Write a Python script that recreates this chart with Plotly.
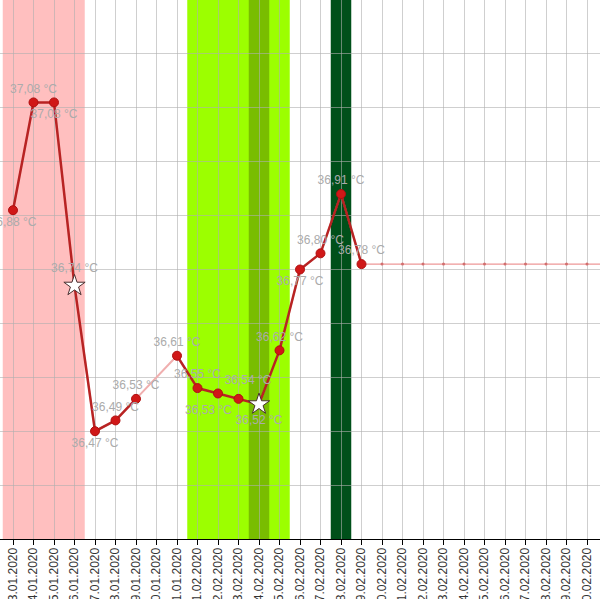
import pandas as pd
import plotly.graph_objects as go

# temperature readings (°C), None = no measurement
dates = ["2020-01-23", "2020-01-24", "2020-01-25", "2020-01-26", "2020-01-27",
         "2020-01-28", "2020-01-29", "2020-01-30", "2020-01-31", "2020-02-01",
         "2020-02-02", "2020-02-03", "2020-02-04", "2020-02-05", "2020-02-06",
         "2020-02-07", "2020-02-08", "2020-02-09"]
temps = [36.88, 37.08, 37.08, 36.74, 36.47, 36.49, 36.53, None, 36.61, 36.55,
         36.54, 36.53, 36.52, 36.62, 36.77, 36.80, 36.91, 36.78]
star_days = ["2020-01-26", "2020-02-04"]
label_pos = ["bottom center", "top center", "bottom center", "top center", "bottom center",
             "top center", "top center", "top center", "top center", "top center",
             "top right", "bottom left", "bottom center", "top center", "bottom center",
             "top center", "top center", "top center"]

# projected line after last reading
future_dates = ["2020-02-09", "2020-02-10", "2020-02-11", "2020-02-12", "2020-02-13",
                "2020-02-14", "2020-02-15", "2020-02-16", "2020-02-17", "2020-02-18",
                "2020-02-19", "2020-02-20", "2020-02-21", "2020-02-22"]
future_temps = [36.78, 36.78, 36.78, 36.78, 36.78, 36.78, 36.78, 36.78, 36.78, 36.78,
                36.78, 36.78, 36.78, 36.78]

# cycle phase bands (start, end, colour)
bands = [
    ("2020-01-22 12:00", "2020-01-26 12:00", "#FFBFBF"),
    ("2020-01-31 12:00", "2020-02-05 12:00", "#9CFF00"),
    ("2020-02-03 12:00", "2020-02-04 12:00", "#79BD00"),
    ("2020-02-07 12:00", "2020-02-08 12:00", "#00501A"),
]

df = pd.DataFrame({"date": dates, "temp": temps, "pos": label_pos})
df["label"] = df["temp"].map(lambda v: "" if pd.isna(v) else f"{v:.2f} °C".replace(".", ","))
df["star"] = df["date"].isin(star_days)
dots = df[(~df["star"]) & df["temp"].notna()]
stars = df[df["star"]]

fig = go.Figure()

fig.add_trace(go.Scatter(
    x=future_dates, y=future_temps, mode="lines+markers",
    line=dict(color="rgba(235,140,140,0.9)", width=1.2),
    marker=dict(size=3, color="rgba(210,110,110,1)"),
    hoverinfo="skip"
))
fig.add_trace(go.Scatter(
    x=df["date"], y=df["temp"], mode="lines", connectgaps=True,
    line=dict(color="rgba(240,175,175,1)", width=2),
    hoverinfo="skip"
))
fig.add_trace(go.Scatter(
    x=df["date"], y=df["temp"], mode="lines", connectgaps=False,
    line=dict(color="rgba(170,0,0,0.8)", width=2.5),
    hoverinfo="skip"
))
fig.add_trace(go.Scatter(
    x=dots["date"], y=dots["temp"], mode="markers+text",
    marker=dict(size=9, color="#D01818", line=dict(color="#B01010", width=1)),
    text=dots["label"], textposition=dots["pos"].tolist(),
    textfont=dict(family="Liberation Sans, Arial", size=12, color="#ABABAB"),
    hoverinfo="skip"
))
fig.add_trace(go.Scatter(
    x=stars["date"], y=stars["temp"], mode="markers+text",
    marker=dict(symbol="star", size=16, color="white", line=dict(color="#4A3030", width=1)),
    text=stars["label"], textposition=stars["pos"].tolist(),
    textfont=dict(family="Liberation Sans, Arial", size=12, color="#ABABAB"),
    hoverinfo="skip"
))

for x0, x1, col in bands:
    fig.add_shape(type="rect", xref="x", yref="paper", x0=x0, x1=x1, y0=0, y1=1,
                  fillcolor=col, line_width=0, layer="below")

fig.update_xaxes(
    type="date", range=["2020-01-22 08:47", "2020-02-20 15:13"],
    tick0="2020-01-23", dtick=86400000, tickformat="%d.%m.%Y", tickangle=-90,
    showgrid=True, gridcolor="rgba(175,175,175,0.6)", gridwidth=1.2,
    showline=True, linecolor="black", linewidth=1,
    ticks="outside", ticklen=5, tickcolor="black", ticklabelstandoff=-2,
    tickfont=dict(family="Liberation Sans, Arial", size=12, color="#333333"),
    automargin=False, zeroline=False
)
fig.update_yaxes(
    range=[36.27, 37.27], tick0=36.27, dtick=0.1,
    showgrid=True, gridcolor="rgba(175,175,175,0.6)", gridwidth=1.2,
    showticklabels=False, zeroline=False, automargin=False
)
fig.update_layout(
    width=600, height=599,
    margin=dict(l=0, r=0, t=0, b=60),
    plot_bgcolor="white", paper_bgcolor="white",
    showlegend=False
)

fig.write_html("out.html", config={"displayModeBar": False},
               post_script="document.body.style.margin='0';")
